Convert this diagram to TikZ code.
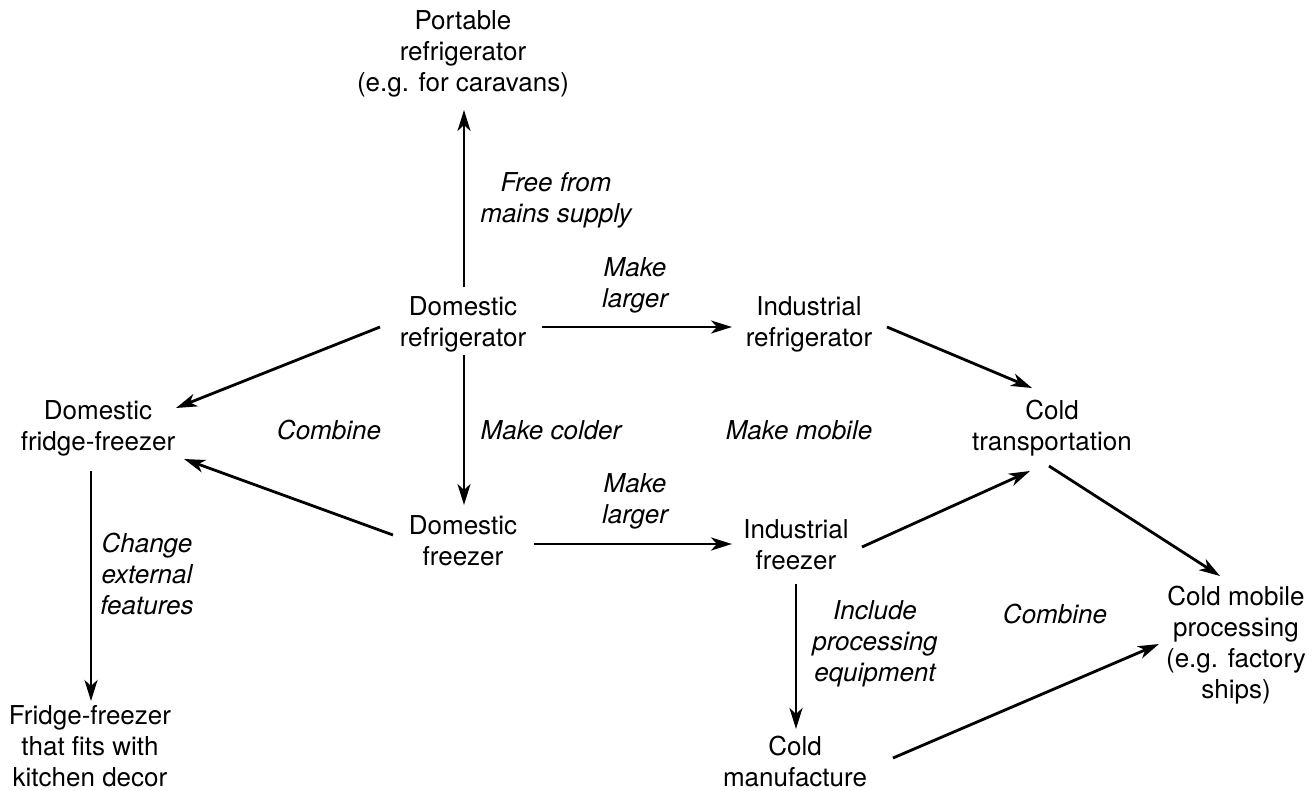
\documentclass[tikz,border=0pt]{standalone}
\usepackage{fontspec}
\setmainfont{TeX Gyre Heros}
\usetikzlibrary{arrows.meta}
\begin{document}
\begin{tikzpicture}[x=1pt,y=-1pt,
  box/.style={align=center,font=\fontsize{26}{31}\selectfont,inner sep=0pt},
  lab/.style={align=center,font=\fontsize{26}{31}\selectfont\itshape,inner sep=0pt},
  arr/.style={line width=2.8pt,-{Stealth[length=21pt,width=13pt,inset=6pt]}}]
\useasboundingbox (0,0) rectangle (1312,790);
% nodes
\node[box] (port) at (463,54) {Portable\\refrigerator\\(e.g. for caravans)};
\node[box] (dr) at (463,324) {Domestic\\refrigerator};
\node[box] (ir) at (809,324) {Industrial\\refrigerator};
\node[box] (ff) at (98,428) {Domestic\\fridge-freezer};
\node[box] (ct) at (1052,428) {Cold\\transportation};
\node[box] (df) at (463,541) {Domestic\\freezer};
\node[box] (if) at (796,545) {Industrial\\freezer};
\node[box] (cmp) at (1236,645) {Cold mobile\\processing\\(e.g. factory\\ships)};
\node[box] (fits) at (90,746) {Fridge-freezer\\that fits with\\kitchen decor};
\node[box] (cm) at (795,761) {Cold\\manufacture};
% labels
\node[lab] (l1) at (556,200) {Free from\\mains supply};
\node[lab] (l2) at (635,285) {Make\\larger};
\node[lab] (l3) at (329,430) {Combine};
\node[lab] (l4) at (551,430) {Make colder};
\node[lab] (l5) at (799,430) {Make mobile};
\node[lab] (l6) at (635,501) {Make\\larger};
\node[lab] (l7) at (147,574) {Change\\external\\features};
\node[lab] (l8) at (875,644) {Include\\processing\\equipment};
\node[lab] (l9) at (1055,614) {Combine};
% arrows
\draw[arr] ([shift={(1,-37)}]dr.center) -- ([shift={(1,56)}]port.center);
\draw[arr] ([shift={(79,3)}]dr.center) -- ([shift={(-77,3)}]ir.center);
\draw[arr] ([shift={(-83,3)}]dr.center) -- ([shift={(78,-20)}]ff.center);
\draw[arr] ([shift={(1,31)}]dr.center) -- ([shift={(1,-36)}]df.center);
\draw[arr] ([shift={(-70,-6)}]df.center) -- ([shift={(86,31)}]ff.center);
\draw[arr] ([shift={(71,3)}]df.center) -- ([shift={(-64,-1)}]if.center);
\draw[arr] ([shift={(78,3)}]ir.center) -- ([shift={(-20,-40)}]ct.center);
\draw[arr] ([shift={(66,2)}]if.center) -- ([shift={(-22,43)}]ct.center);
\draw[arr] ([shift={(-3,38)}]ct.center) -- ([shift={(-16,-69)}]cmp.center);
\draw[arr] ([shift={(0,39)}]if.center) -- ([shift={(1,-32)}]cm.center);
\draw[arr] ([shift={(98,-3)}]cm.center) -- ([shift={(-77,-1)}]cmp.center);
\draw[arr] ([shift={(-7,43)}]ff.center) -- ([shift={(1,-45)}]fits.center);
\end{tikzpicture}
\end{document}
